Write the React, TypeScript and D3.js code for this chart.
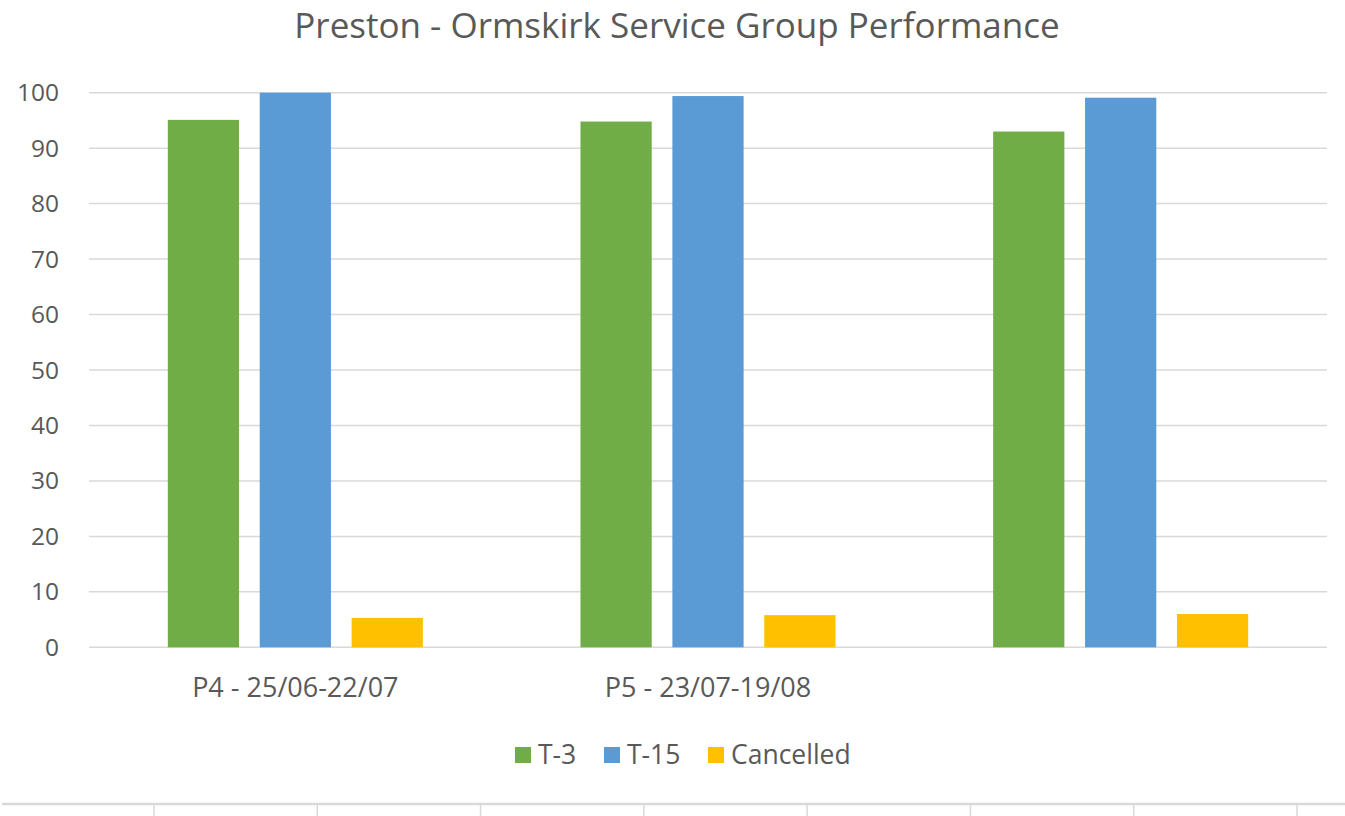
import React from 'react'
import * as d3 from 'd3'

const categories = ['P4 - 25/06-22/07', 'P5 - 23/07-19/08', '']
const seriesNames = ['T-3', 'T-15', 'Cancelled']
const t3 = [95.1, 94.8, 93.0]
const t15 = [100, 99.4, 99.1]
const cancelled = [5.3, 5.8, 6.0]
const yTicks = [0, 10, 20, 30, 40, 50, 60, 70, 80, 90, 100]
const lowerAxisTicks = [0, 1, 2, 3, 4, 5, 6, 7]

const colors = ['#70ad47', '#5b9bd5', '#ffc000']
const FONT = '"Open Sans", Lato, sans-serif'
const TEXT = '#595959'

export default function App() {
  const width = 1345
  const height = 816
  const plot = { left: 89, right: 1327, top: 92.7, bottom: 647.3 }

  const x = d3.scaleBand().domain(categories).range([plot.left, plot.right]).paddingInner(0.382).paddingOuter(0.191)
  const x1 = d3.scaleBand().domain(seriesNames).range([0, x.bandwidth()]).paddingInner(0.225)
  const y = d3.scaleLinear().domain([0, 100]).range([plot.bottom, plot.top])

  const values = [t3, t15, cancelled]
  const lower = d3.scaleLinear().domain([0, 7]).range([154, 1297])

  const legendItems = [
    { name: 'T-3', x: 515 },
    { name: 'T-15', x: 604 },
    { name: 'Cancelled', x: 708 },
  ]

  return (
    <svg width={width} height={height} style={{ position: 'absolute', left: 0, top: 0, background: '#fff' }}>
      <text x={677} y={38} textAnchor="middle" fontFamily={FONT} fontSize={35} fill={TEXT}>
        Preston - Ormskirk Service Group Performance
      </text>

      {yTicks.map(t => (
        <g key={t}>
          <line x1={plot.left} x2={plot.right} y1={y(t)} y2={y(t)} stroke="#d9d9d9" strokeWidth={1.5} />
          <text x={59} y={y(t)} dy="0.35em" textAnchor="end" fontFamily={FONT} fontSize={24.5} fill={TEXT}>{t}</text>
        </g>
      ))}

      {categories.map((c, i) => (
        <g key={i} transform={`translate(${x(c)},0)`}>
          {seriesNames.map((s, j) => (
            <rect key={s} x={x1(s)} y={y(values[j][i])} width={x1.bandwidth()} height={y(0) - y(values[j][i])} fill={colors[j]} />
          ))}
          <text x={x.bandwidth() / 2} y={697} textAnchor="middle" fontFamily={FONT} fontSize={27} fill={TEXT}>{c}</text>
        </g>
      ))}

      {legendItems.map((d, i) => (
        <g key={d.name} transform={`translate(${d.x},747)`}>
          <rect width={16} height={16} fill={colors[i]} />
          <text x={23} y={8} dy="0.35em" fontFamily={FONT} fontSize={26.5} fill={TEXT}>{d.name}</text>
        </g>
      ))}

      <line x1={2} x2={width} y1={804} y2={804} stroke="#d9d9d9" strokeWidth={2.5} />
      {lowerAxisTicks.map(t => (
        <line key={t} x1={lower(t)} x2={lower(t)} y1={804} y2={816} stroke="#d9d9d9" strokeWidth={1.5} />
      ))}
    </svg>
  )
}
